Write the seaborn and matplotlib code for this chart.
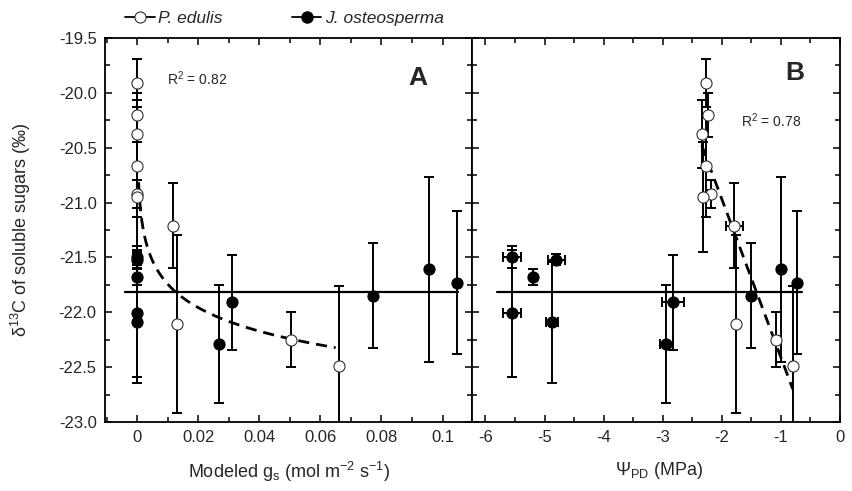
import numpy as np
import pandas as pd
import matplotlib
matplotlib.use("Agg")
import matplotlib.pyplot as plt
import seaborn as sns
from matplotlib.lines import Line2D
from matplotlib.ticker import MultipleLocator, FixedLocator, FixedFormatter

# ---------------- data ----------------
# P. edulis (open circles)
pe_gs = [0, 0, 0, 0, 0, 0, 0.0116, 0.0132, 0.0504, 0.066]
pe_psi = [-2.27, -2.23, -2.34, -2.26, -2.18, -2.32, -1.79, -1.76, -1.08, -0.80]
pe_d13c = [-19.91, -20.20, -20.375, -20.67, -20.92, -20.95, -21.21, -22.11, -22.25, -22.49]
pe_yerr = [0.22, 0.20, 0.31, 0.46, 0.13, 0.50, 0.39, 0.81, 0.25, 0.73]
pe_psi_err = [0.02, 0.02, 0.02, 0.02, 0.05, 0.02, 0.14, 0.02, 0.04, 0.03]

# J. osteosperma (filled circles)
jo_gs = [0, 0, 0, 0, 0, 0.0267, 0.031, 0.0773, 0.0955, 0.1046]
jo_psi = [-5.55, -5.19, -4.80, -5.55, -4.87, -2.94, -2.83, -1.50, -1.00, -0.72]
jo_d13c = [-21.50, -21.68, -21.52, -22.01, -22.09, -22.29, -21.91, -21.85, -21.61, -21.73]
jo_yerr = [0.10, 0.07, 0.05, 0.58, 0.55, 0.54, 0.43, 0.48, 0.84, 0.65]
jo_psi_err = [0.15, 0.0, 0.15, 0.15, 0.10, 0.11, 0.19, 0.0, 0.0, 0.0]

# mean line of J. osteosperma (x extents per panel)
mean_line_a = [-0.004, 0.105]
mean_line_b = [-5.81, -0.65]

# log fit in panel A: y = a + b*ln(gs)
fit_a_intercept = -23.17
fit_a_slope = -0.31
fit_a_range = [0.0005, 0.065]

r2_a = "0.82"
r2_b = "0.78"

ytick_vals = [-19.5, -20.0, -20.5, -21.0, -21.5, -22.0, -22.5, -23.0]
ytick_labels = ["-19.5", "-20.0", "-20.5", "-21.0", "-21.5", "-22.0", "-22.5", "-23.0"]
xa_tick_vals = [0, 0.02, 0.04, 0.06, 0.08, 0.1]
xa_tick_labels = ["0", "0.02", "0.04", "0.06", "0.08", "0.1"]
xb_tick_vals = [-6, -5, -4, -3, -2, -1, 0]
xb_tick_labels = ["-6", "-5", "-4", "-3", "-2", "-1", "0"]

# ---------------- style ----------------
sns.set_theme(style="ticks")
plt.rcParams["font.family"] = ["Liberation Sans", "DejaVu Sans"]
plt.rcParams["axes.unicode_minus"] = False
plt.rcParams["mathtext.fontset"] = "custom"
plt.rcParams["mathtext.rm"] = "Liberation Sans"
plt.rcParams["mathtext.it"] = "Liberation Sans:italic"
plt.rcParams["mathtext.bf"] = "Liberation Sans:bold"

fig, (axA, axB) = plt.subplots(1, 2, sharey=True, figsize=(8.53, 4.91), dpi=100)
fig.patch.set_facecolor("white")
fig.subplots_adjust(left=105 / 853, right=840 / 853, top=1 - 38 / 491,
                    bottom=1 - 422 / 491, wspace=0)

ms_area = 64
eb_kw = dict(fmt="none", ecolor="black", elinewidth=1.4, capsize=3.5, capthick=1.4, zorder=2)


def draw(ax, x_pe, x_jo, xerr_pe=None, xerr_jo=None):
    ax.errorbar(x_jo, jo_d13c, yerr=jo_yerr, xerr=xerr_jo, **eb_kw)
    ax.errorbar(x_pe, pe_d13c, yerr=pe_yerr, xerr=xerr_pe, **eb_kw)
    sns.scatterplot(x=x_jo, y=jo_d13c, ax=ax, marker="o", s=ms_area, color="black",
                    edgecolor="black", linewidth=0.8, zorder=5, legend=False)
    sns.scatterplot(x=x_pe, y=pe_d13c, ax=ax, marker="o", s=ms_area, color="white",
                    edgecolor="#303030", linewidth=0.8, zorder=5, legend=False)


# Panel A
draw(axA, pe_gs, jo_gs)
mean_jo = float(np.mean(jo_d13c))
axA.plot(mean_line_a, [mean_jo, mean_jo], color="black", lw=1.6, zorder=3)
gs_grid = np.linspace(fit_a_range[0], fit_a_range[1], 300)
axA.plot(gs_grid, fit_a_intercept + fit_a_slope * np.log(gs_grid), color="black",
         lw=2.0, ls=(0, (4, 2.5)), zorder=3)

# Panel B
draw(axB, pe_psi, jo_psi, xerr_pe=pe_psi_err, xerr_jo=jo_psi_err)
axB.plot(mean_line_b, [mean_jo, mean_jo], color="black", lw=1.6, zorder=3)
df_pe = pd.DataFrame({"psi": pe_psi, "d13c": pe_d13c})
sns.regplot(data=df_pe, x="psi", y="d13c", ax=axB, scatter=False, ci=None, truncate=True,
            line_kws=dict(color="black", lw=2.0, ls=(0, (4, 2.5)), zorder=3))

# axes formatting
axA.set_xlim(-0.0105, 0.1098)
axB.set_xlim(-6.22, 0)
axA.set_ylim(-23.0, -19.5)

axA.yaxis.set_major_locator(FixedLocator(ytick_vals))
axA.yaxis.set_major_formatter(FixedFormatter(ytick_labels))
axA.yaxis.set_minor_locator(MultipleLocator(0.25))
axA.xaxis.set_major_locator(FixedLocator(xa_tick_vals))
axA.xaxis.set_major_formatter(FixedFormatter(xa_tick_labels))
axA.xaxis.set_minor_locator(MultipleLocator(0.01))
axB.xaxis.set_major_locator(FixedLocator(xb_tick_vals))
axB.xaxis.set_major_formatter(FixedFormatter(xb_tick_labels))
axB.xaxis.set_minor_locator(MultipleLocator(0.5))

for ax in (axA, axB):
    ax.tick_params(which="both", direction="in", top=True, right=True, left=True,
                   bottom=True, width=1.1, color="black", labelsize=12, pad=6)
    ax.tick_params(which="major", length=5)
    ax.tick_params(which="minor", length=3.3)
    for sp in ax.spines.values():
        sp.set_linewidth(1.3)
        sp.set_color("black")
        sp.set_visible(True)
    ax.set_facecolor("white")
axB.tick_params(labelleft=False)

axA.set_xlabel("Modeled g$_{\\rm s}$ (mol m$^{-2}$ s$^{-1}$)", fontsize=13)
axB.set_xlabel("Ψ$_{\\rm PD}$ (MPa)", fontsize=13)
axA.xaxis.set_label_coords(0.5, -0.10)
axB.xaxis.set_label_coords(0.508, -0.10)
axA.set_ylabel("δ$^{13}$C of soluble sugars (‰)", fontsize=13)
axA.yaxis.set_label_coords(-0.196, 0.5)
axB.set_ylabel("")

axA.text(0.169, 0.893, f"R$^{{2}}$ = {r2_a}", transform=axA.transAxes, fontsize=10,
         va="center", ha="left")
axB.text(0.730, 0.785, f"R$^{{2}}$ = {r2_b}", transform=axB.transAxes, fontsize=10,
         va="center", ha="left")
axA.text(0.852, 0.896, "A", transform=axA.transAxes, fontsize=19, fontweight="bold",
         va="center", ha="center")
axB.text(0.878, 0.909, "B", transform=axB.transAxes, fontsize=19, fontweight="bold",
         va="center", ha="center")

# legend
handles = [
    Line2D([0], [0], color="black", lw=1.3, marker="o", markersize=8,
           markerfacecolor="white", markeredgecolor="#303030", markeredgewidth=0.8),
    Line2D([0], [0], color="black", lw=1.3, marker="o", markersize=8,
           markerfacecolor="black", markeredgecolor="black"),
]
fig.legend(handles, ["P. edulis", "J. osteosperma"], loc="center left",
           bbox_to_anchor=(125 / 853, 1 - 18 / 491), ncol=2, frameon=False,
           prop=dict(style="italic", size=12.5), handlelength=1.7, handletextpad=0.2,
           columnspacing=4.0, borderpad=0, borderaxespad=0)

fig.savefig("out.png", dpi=100, facecolor="white")
